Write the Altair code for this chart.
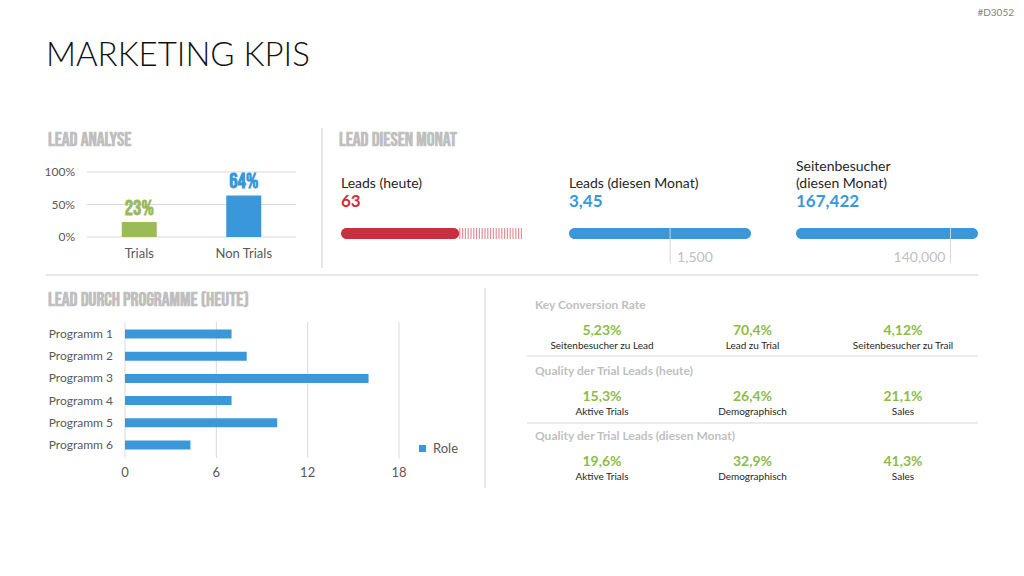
import altair as alt
import pandas as pd

# ---------------- data ----------------
page_title = "MARKETING KPIS"
page_code = "#D3052"
section_titles = ["LEAD ANALYSE", "LEAD DIESEN MONAT", "LEAD DURCH PROGRAMME (HEUTE)"]

lead_categories = ["Trials", "Non Trials"]
lead_shares = [23, 64]
lead_ticks = [0, 50, 100]

gauge_titles = [["Leads (heute)"], ["Leads (diesen Monat)"], ["Seitenbesucher", "(diesen Monat)"]]
gauge_value_texts = ["63", "3,45", "167,422"]
gauge_values = [63, 3450, 167422]
gauge_max = [97, 2700, 165000]
gauge_targets = [None, 1500, 140000]
gauge_target_texts = ["", "1,500", "140,000"]

program_names = ["Programm 1", "Programm 2", "Programm 3", "Programm 4", "Programm 5", "Programm 6"]
program_leads = [7, 8, 16, 7, 10, 4.3]
program_ticks = [0, 6, 12, 18]
program_series = "Role"

kpi_sections = ["Key Conversion Rate", "Quality der Trial Leads (heute)", "Quality der Trial Leads (diesen Monat)"]
kpi_values = [["5,23%", "70,4%", "4,12%"], ["15,3%", "26,4%", "21,1%"], ["19,6%", "32,9%", "41,3%"]]
kpi_labels = [["Seitenbesucher zu Lead", "Lead zu Trial", "Seitenbesucher zu Trail"],
              ["Aktive Trials", "Demographisch", "Sales"],
              ["Aktive Trials", "Demographisch", "Sales"]]

# ---------------- style ----------------
BODY = "Lato, 'Open Sans', sans-serif"
COND = ("'Bebas Neue', Oswald, 'Roboto Condensed', 'Open Sans Condensed', 'Noto Sans Condensed', "
        "'Liberation Sans Narrow', 'DejaVu Sans Condensed', sans-serif")
BLUE = "#3A97DA"
GREEN_BAR = "#9BBB59"
GREEN_TXT = "#8DBB4A"
RED = "#C8303F"
STRIPE = "#E48F99"
GRID = "#D9D9D9"
SEP = "#D0D0D0"
AXIS_TXT = "#595959"
HEAD = "#BFBFBF"
DARK = "#262626"

ONE = alt.Data(values=[{}])


def label(text, x, y, size, color, weight="normal", font=BODY, align="left"):
    return alt.Chart(ONE).mark_text(
        text=text, font=font, fontSize=size, fontWeight=weight, color=color,
        align=align, baseline="middle"
    ).encode(x=alt.value(x), y=alt.value(y))


def hline(y, x1, x2, color=SEP, w=1):
    return alt.Chart(ONE).mark_rule(color=color, strokeWidth=w).encode(
        x=alt.value(x1), x2=alt.value(x2), y=alt.value(y))


def vline(x, y1, y2, color=SEP, w=1):
    return alt.Chart(ONE).mark_rule(color=color, strokeWidth=w).encode(
        x=alt.value(x), y=alt.value(y1), y2=alt.value(y2))


layers = []

# titles
layers.append(label(page_title, 46, 56, 33, "#111111", weight=300))
layers.append(label(page_code, 1014, 13, 10, "#7F7F7F", align="right"))
layers.append(label(section_titles[0], 48, 140, 19.5, HEAD, weight="bold", font=COND))
layers.append(label(section_titles[1], 339, 140, 19.5, HEAD, weight="bold", font=COND))
layers.append(label(section_titles[2], 48, 300, 19.5, HEAD, weight="bold", font=COND))

# separators
layers.append(vline(322, 128, 268))
layers.append(hline(275, 46, 978))
layers.append(vline(485, 288, 488))
layers.append(hline(356, 527, 978, color="#D9D9D9"))
layers.append(hline(423, 527, 978, color="#D9D9D9"))

# ---------------- lead analyse ----------------
lead_df = pd.DataFrame({"category": lead_categories, "share": lead_shares})
tick_df = pd.DataFrame({"tick": lead_ticks})
lx = alt.Scale(type="band", domain=lead_categories, range=[87, 296], paddingInner=0, paddingOuter=0)
ly = alt.Scale(domain=[0, 100], range=[237, 172])
lcolor = alt.Scale(domain=lead_categories, range=[GREEN_BAR, BLUE])

layers.append(alt.Chart(tick_df).mark_rule(color=GRID).encode(
    y=alt.Y("tick:Q", scale=ly, axis=None), x=alt.value(87), x2=alt.value(296)))
layers.append(alt.Chart(tick_df).transform_calculate(lab="datum.tick + '%'").mark_text(
    align="right", baseline="middle", font=BODY, fontSize=12, color=AXIS_TXT).encode(
    y=alt.Y("tick:Q", scale=ly, axis=None), x=alt.value(75), text="lab:N"))
layers.append(alt.Chart(lead_df).mark_bar(size=35).encode(
    x=alt.X("category:N", scale=lx, axis=None),
    y=alt.Y("share:Q", scale=ly, axis=None),
    color=alt.Color("category:N", scale=lcolor, legend=None)))
layers.append(alt.Chart(lead_df).transform_calculate(lab="datum.share + '%'").mark_text(
    dy=-13, font=COND, fontSize=21, fontWeight="bold", baseline="middle").encode(
    x=alt.X("category:N", scale=lx, axis=None),
    y=alt.Y("share:Q", scale=ly, axis=None),
    color=alt.Color("category:N", scale=lcolor, legend=None),
    text="lab:N"))
layers.append(alt.Chart(lead_df).mark_text(
    font=BODY, fontSize=13, color=AXIS_TXT, baseline="middle").encode(
    x=alt.X("category:N", scale=lx, axis=None), y=alt.value(254), text="category:N"))

# ---------------- gauges ----------------
gauge_left = [341, 569, 796]
gauge_width = 182
gauge_colors = [RED, BLUE, BLUE]
for i in range(3):
    x0 = gauge_left[i]
    gdf = pd.DataFrame({"start": [0], "value": [gauge_values[i]], "max": [gauge_max[i]],
                        "target": [gauge_targets[i] if gauge_targets[i] is not None else 0],
                        "ttext": [gauge_target_texts[i]]})
    gx = alt.Scale(domain=[0, gauge_max[i]], range=[x0, x0 + gauge_width], clamp=True)
    titles = gauge_titles[i]
    if len(titles) == 1:
        layers.append(label(titles[0], x0, 184, 14, DARK))
    else:
        layers.append(label(titles[0], x0, 167, 14, DARK))
        layers.append(label(titles[1], x0, 184, 14, DARK))
    layers.append(label(gauge_value_texts[i], x0, 202, 17, gauge_colors[i], weight="bold"))
    if gauge_values[i] < gauge_max[i]:
        layers.append(alt.Chart(gdf).mark_rule(strokeWidth=11, strokeDash=[1.2, 1.6], color=STRIPE).encode(
            x=alt.X("value:Q", scale=gx, axis=None), x2="max:Q", y=alt.value(233.5)))
    layers.append(alt.Chart(gdf).mark_rect(cornerRadius=5.5, color=gauge_colors[i]).encode(
        x=alt.X("start:Q", scale=gx, axis=None), x2="value:Q", y=alt.value(228), y2=alt.value(239)))
    if gauge_targets[i] is not None:
        layers.append(alt.Chart(gdf).mark_rule(color="#D4D4D4", strokeWidth=1).encode(
            x=alt.X("target:Q", scale=gx, axis=None), y=alt.value(228), y2=alt.value(263)))
        right = i == 2
        layers.append(alt.Chart(gdf).mark_text(
            align="right" if right else "left", dx=-5 if right else 7, baseline="middle",
            font=BODY, fontSize=14, color="#BFBFBF").encode(
            x=alt.X("target:Q", scale=gx, axis=None), y=alt.value(258), text="ttext:N"))

# ---------------- programme ----------------
prog_df = pd.DataFrame({"program": program_names, "leads": program_leads, "series": program_series})
ptick_df = pd.DataFrame({"tick": program_ticks})
px = alt.Scale(domain=[0, 18], range=[125, 399])
py = alt.Scale(type="band", domain=program_names, range=[323, 456], paddingInner=0, paddingOuter=0)

layers.append(alt.Chart(ptick_df).mark_rule(color=GRID).encode(
    x=alt.X("tick:Q", scale=px, axis=None), y=alt.value(322), y2=alt.value(458)))
layers.append(alt.Chart(ptick_df).mark_text(
    font=BODY, fontSize=13, color=AXIS_TXT, baseline="middle").encode(
    x=alt.X("tick:Q", scale=px, axis=None), y=alt.value(473), text="tick:Q"))
layers.append(alt.Chart(prog_df).mark_bar(size=9).encode(
    x=alt.X("leads:Q", scale=px, axis=None),
    y=alt.Y("program:N", scale=py, axis=None),
    color=alt.Color("series:N", scale=alt.Scale(domain=[program_series], range=[BLUE]),
                    legend=alt.Legend(orient="none", legendX=416, legendY=442, title=None,
                                      symbolType="square", symbolSize=50, padding=0,
                                      labelFont=BODY, labelFontSize=13, labelColor=AXIS_TXT,
                                      labelOffset=4))))
layers.append(alt.Chart(prog_df).mark_text(
    align="right", baseline="middle", font=BODY, fontSize=12, color=AXIS_TXT).encode(
    x=alt.value(113), y=alt.Y("program:N", scale=py, axis=None), text="program:N"))

# ---------------- KPI table ----------------
rows = []
for s in range(3):
    for c in range(3):
        rows.append({"section": s, "col": c, "value": kpi_values[s][c], "label": kpi_labels[s][c]})
kpi_df = pd.DataFrame(rows)
sec_df = pd.DataFrame({"section": [0, 1, 2], "title": kpi_sections})
kx = alt.Scale(type="point", domain=[0, 1, 2], range=[602, 903], padding=0)
ky = alt.Scale(type="point", domain=[0, 1, 2], range=[331, 462], padding=0)

layers.append(alt.Chart(sec_df).mark_text(
    align="left", baseline="middle", dy=-26, font=BODY, fontSize=12, fontWeight="bold", color=HEAD).encode(
    x=alt.value(535), y=alt.Y("section:O", scale=ky, axis=None), text="title:N"))
layers.append(alt.Chart(kpi_df).mark_text(
    baseline="middle", font=BODY, fontSize=14, fontWeight="bold", color=GREEN_TXT).encode(
    x=alt.X("col:O", scale=kx, axis=None), y=alt.Y("section:O", scale=ky, axis=None), text="value:N"))
layers.append(alt.Chart(kpi_df).mark_text(
    baseline="middle", dy=15, font=BODY, fontSize=10, color=DARK).encode(
    x=alt.X("col:O", scale=kx, axis=None), y=alt.Y("section:O", scale=ky, axis=None), text="label:N"))

chart = alt.layer(*layers).resolve_scale(
    x="independent", y="independent", color="independent"
).properties(
    width=1024, height=576, autosize=alt.AutoSizeParams(type="none"), padding=0
).configure_view(stroke=None)

chart.save("out.html", embed_options={"renderer": "svg", "actions": False})
